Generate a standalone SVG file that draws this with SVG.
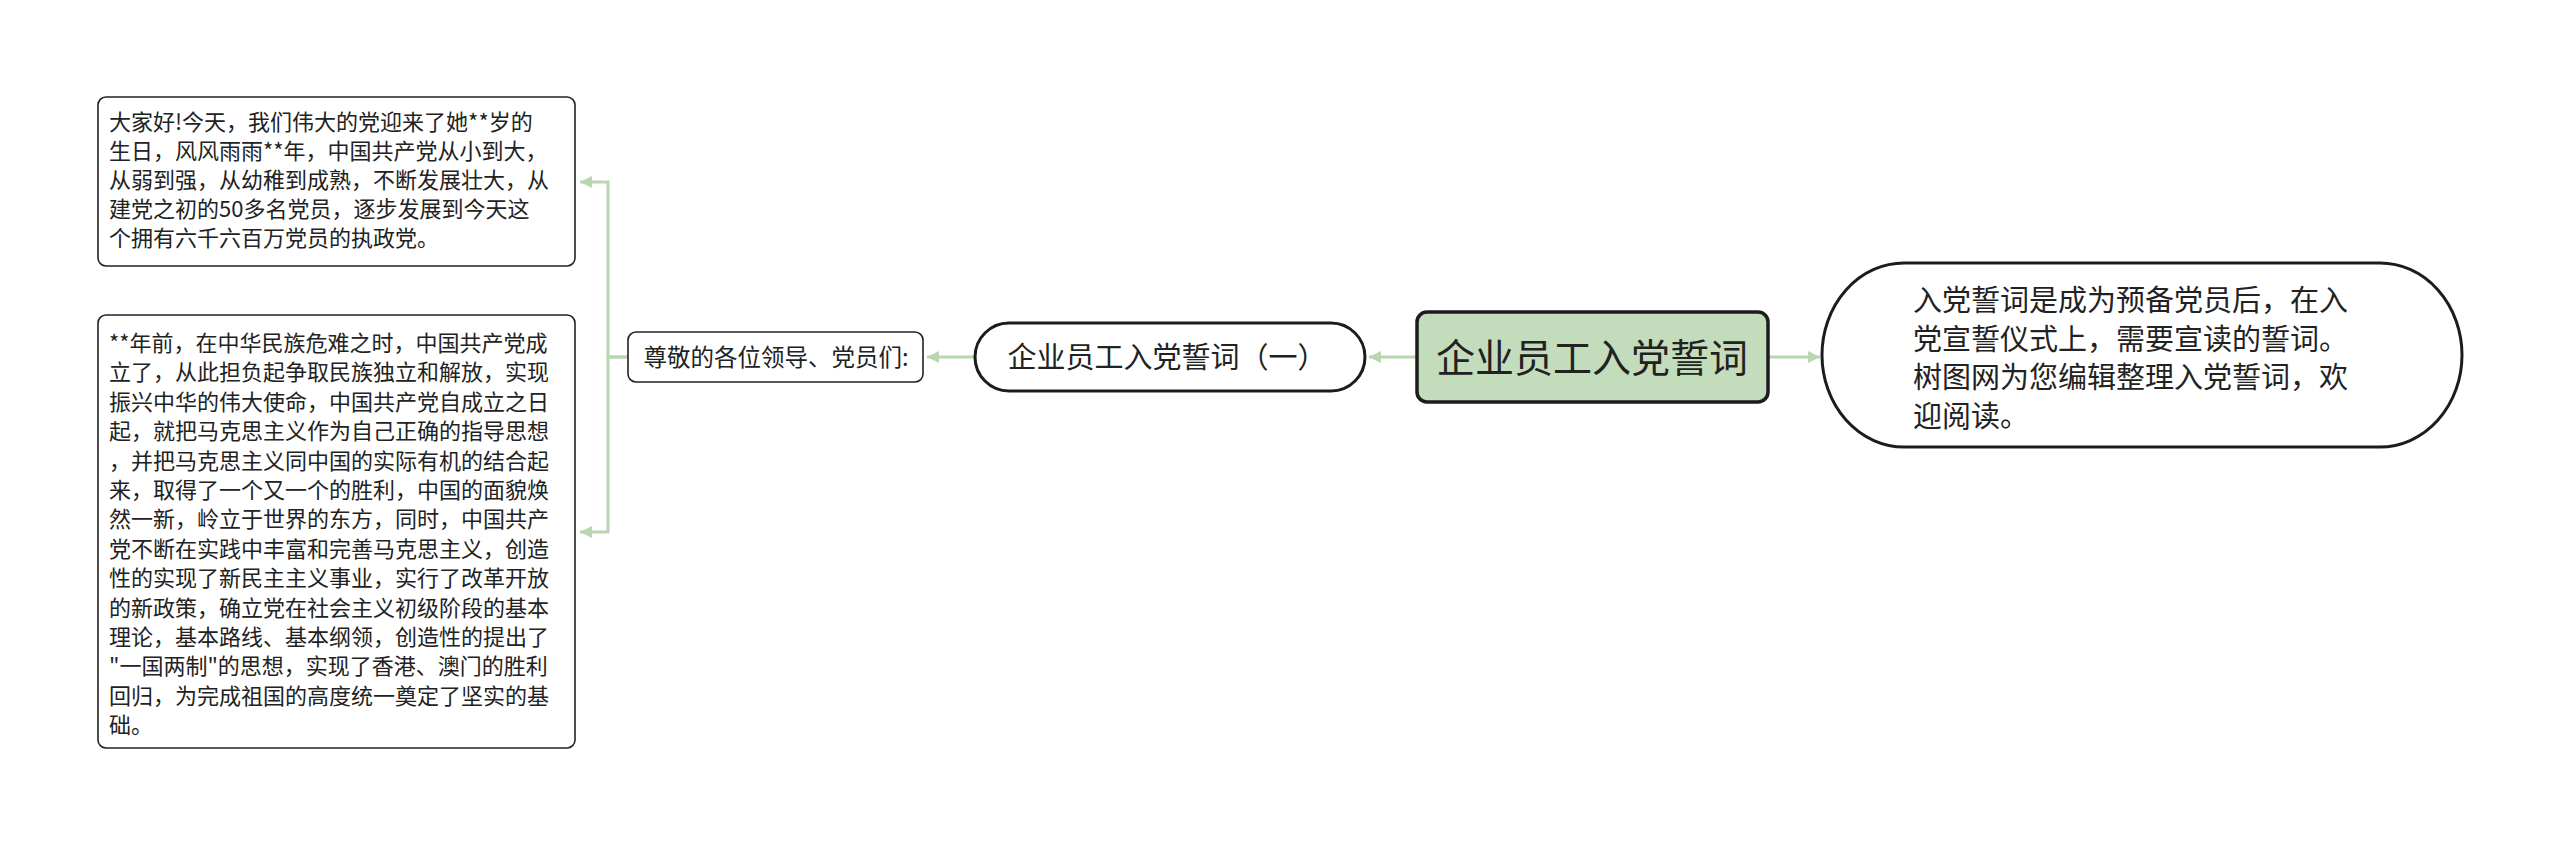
<svg xmlns="http://www.w3.org/2000/svg" width="2560" height="846" viewBox="0 0 2560 846">
<defs>
<marker id="arr" markerUnits="userSpaceOnUse" markerWidth="14" markerHeight="14" refX="12" refY="7" orient="auto">
<path d="M0,1 L12,7 L0,13 Z" fill="#b8d6b0"/>
</marker>
<style>
.t{font-family:"Noto Sans CJK SC","Microsoft YaHei",sans-serif;fill:#222;}
.c{fill:none;stroke:#b8d6b0;stroke-width:3;marker-end:url(#arr);}
.leaf{fill:#fff;stroke:#222;stroke-width:1.6;}
.s22{font-size:22px;}
</style>
</defs>
<rect width="2560" height="846" fill="#fff"/>
<g id="connectors">
<path class="c" d="M1417,357 H1369"/>
<path class="c" d="M1768,357 H1820"/>
<path class="c" d="M975,357 H927"/>
<path class="c" d="M628,357 H608 V182 H580"/>
<path class="c" d="M628,357 H608 V532 H580"/>
</g>
<g id="root">
<rect x="1417" y="312" width="351" height="90" rx="10" fill="#c3dcbb" stroke="#1c1c1c" stroke-width="3.5"/>
<text class="t" x="1592" y="371.5" font-size="39" text-anchor="middle">企业员工入党誓词</text>
</g>
<g id="desc">
<rect x="1822" y="263" width="640" height="184" rx="82" ry="92" fill="#fff" stroke="#1c1c1c" stroke-width="3"/>
<text class="t" font-size="29"><tspan x="1913" y="311">入党誓词是成为预备党员后，在入</tspan><tspan x="1913" y="349.5">党宣誓仪式上，需要宣读的誓词。</tspan><tspan x="1913" y="388">树图网为您编辑整理入党誓词，欢</tspan><tspan x="1913" y="426.5">迎阅读。</tspan></text>
</g>
<g id="sub1">
<rect x="975" y="323" width="390" height="68" rx="34" fill="#fff" stroke="#1c1c1c" stroke-width="3"/>
<text class="t" x="1167" y="367.5" font-size="29" text-anchor="middle">企业员工入党誓词（一）</text>
</g>
<g id="greet">
<rect class="leaf" x="628" y="332" width="295" height="50" rx="8"/>
<text class="t" x="776" y="365.5" font-size="23.5" text-anchor="middle">尊敬的各位领导、党员们:</text>
</g>
<g id="para1">
<rect class="leaf" x="98" y="97" width="477" height="169" rx="8"/>
<text class="t s22"><tspan x="109" y="130">大家好!今天，我们伟大的党迎来了她**岁的</tspan><tspan x="109" y="159">生日，风风雨雨**年，中国共产党从小到大，</tspan><tspan x="109" y="188">从弱到强，从幼稚到成熟，不断发展壮大，从</tspan><tspan x="109" y="217">建党之初的50多名党员，逐步发展到今天这</tspan><tspan x="109" y="246">个拥有六千六百万党员的执政党。</tspan></text>
</g>
<g id="para2">
<rect class="leaf" x="98" y="315" width="477" height="433" rx="8"/>
<text class="t s22"><tspan x="109" y="351">**年前，在中华民族危难之时，中国共产党成</tspan><tspan x="109" y="380.4">立了，从此担负起争取民族独立和解放，实现</tspan><tspan x="109" y="409.8">振兴中华的伟大使命，中国共产党自成立之日</tspan><tspan x="109" y="439.2">起，就把马克思主义作为自己正确的指导思想</tspan><tspan x="109" y="468.6">，并把马克思主义同中国的实际有机的结合起</tspan><tspan x="109" y="498">来，取得了一个又一个的胜利，中国的面貌焕</tspan><tspan x="109" y="527.4">然一新，岭立于世界的东方，同时，中国共产</tspan><tspan x="109" y="556.8">党不断在实践中丰富和完善马克思主义，创造</tspan><tspan x="109" y="586.2">性的实现了新民主主义事业，实行了改革开放</tspan><tspan x="109" y="615.6">的新政策，确立党在社会主义初级阶段的基本</tspan><tspan x="109" y="645">理论，基本路线、基本纲领，创造性的提出了</tspan><tspan x="109" y="674.4">"一国两制"的思想，实现了香港、澳门的胜利</tspan><tspan x="109" y="703.8">回归，为完成祖国的高度统一奠定了坚实的基</tspan><tspan x="109" y="733.2">础。</tspan></text>
</g>
</svg>
